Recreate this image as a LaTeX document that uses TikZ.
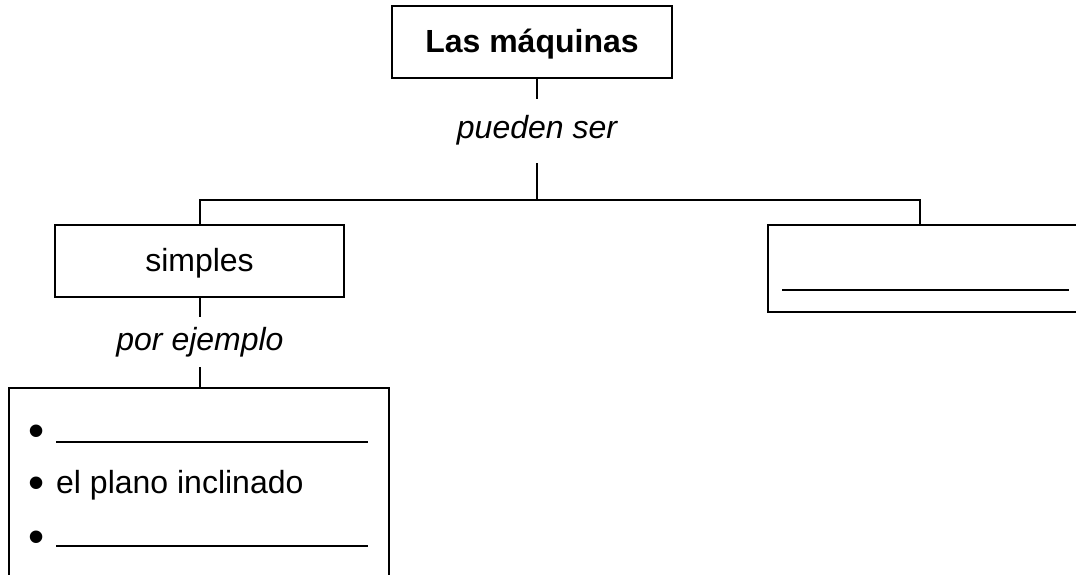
\documentclass[tikz,border=0pt]{standalone}
\usepackage{fontspec}
\setmainfont{Liberation Sans}
\begin{document}
\begin{tikzpicture}[x=1pt,y=-1pt,
  box/.style={draw, line width=2pt, inner sep=0pt},
  conn/.style={line width=2pt},
  lbl/.style={font=\fontsize{32}{38}\selectfont\itshape, inner xsep=0pt, text height=23pt, text depth=7pt},
  txt/.style={font=\fontsize{32}{38}\selectfont, inner sep=0pt},
  bul/.style={font=\fontsize{46}{50}\selectfont, inner sep=0pt, anchor=base west},
  blank/.style={line width=1.5pt}]
\useasboundingbox (0,0) rectangle (1076,575);
\clip (0,0) rectangle (1076,575);
% nodes
\node[box, minimum width=280pt, minimum height=72pt, text height=23pt, text depth=2pt, font=\fontsize{32}{38}\selectfont\bfseries] (top) at (532,42) {Las máquinas};
\node[lbl, inner ysep=17pt] (pueden) at (537,131) {pueden ser};
\coordinate (hl) at (200,200);
\coordinate (hr) at (920,200);
\node[box, minimum width=289pt, minimum height=72pt, text height=22pt, text depth=2pt, font=\fontsize{32}{38}\selectfont] (simples) at (199.5,261) {simples};
\node[box, minimum width=317pt, minimum height=87pt] (right) at (926.5,268.5) {};
\node[lbl, inner ysep=10pt] (ejemplo) at (200,342) {por ejemplo};
\node[box, minimum width=380pt, minimum height=212pt] (list) at (199,494) {};
% list content
\node[bul] (b1) at (28.7,446.6) {•};
\node[bul] (b2) at (28.7,498.1) {•};
\node[txt, anchor=base west] (t2) at (56,493) {el plano inclinado};
\node[bul] (b3) at (28.7,552.1) {•};
\draw[blank] (56,442) -- (368,442);
\draw[blank] (56,546) -- (368,546);
\draw[blank] (782,290) -- (1069,290);
% connectors
\draw[conn] (top.south -| pueden.north) -- (pueden.north);
\draw[conn] (pueden.south) -- (pueden.south |- hl);
\draw[conn] (simples.north -| hl) -- (hl) -- (hr) -- (right.north -| hr);
\draw[conn] (simples.south -| ejemplo.north) -- (ejemplo.north);
\draw[conn] (ejemplo.south) -- (list.north -| ejemplo.south);
\end{tikzpicture}
\end{document}
